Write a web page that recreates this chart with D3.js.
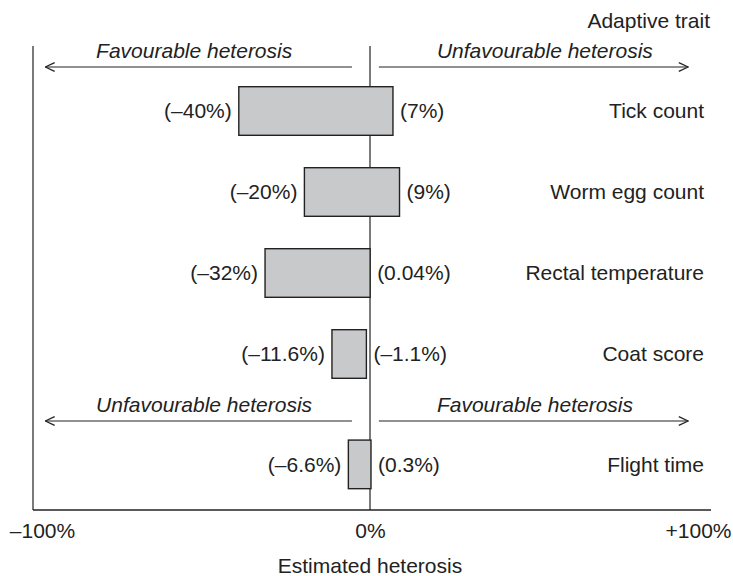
<!DOCTYPE html>
<html>
<head>
<meta charset="utf-8">
<script src="https://cdn.jsdelivr.net/npm/d3@7"></script>
<style>
  html, body { margin: 0; padding: 0; background: #fff; }
  svg { display: block; font-family: "Liberation Sans", Arial, Helvetica, sans-serif; }
</style>
</head>
<body>
<svg id="chart" width="733" height="576"></svg>
<script>
// Estimated heterosis ranges per adaptive trait (low and high estimates, %)
const upperTraits = ["Tick count", "Worm egg count", "Rectal temperature", "Coat score"];
const lowerTraits = ["Flight time"];
const lowValues  = [-40, -20, -32, -11.6, -6.6];
const highValues = [7, 9, 0.04, -1.1, 0.3];

// Axis
const tickValues = [-100, 0, 100];
const tickLabels = ["–100%", "0%", "+100%"];
const axisTitle = "Estimated heterosis";
const traitTitle = "Adaptive trait";

// Direction annotations for each panel (left side, right side)
const upperDirections = ["Favourable heterosis", "Unfavourable heterosis"];
const lowerDirections = ["Unfavourable heterosis", "Favourable heterosis"];

const traits = upperTraits.concat(lowerTraits);
const rows = traits.map((t, i) => ({
  trait: t, low: lowValues[i], high: highValues[i],
  panel: upperTraits.includes(t) ? "upper" : "lower"
}));

const fmt = v => "(" + (v < 0 ? "–" : "") + String(Math.abs(v)) + "%)";

const svg = d3.select("#chart");
const ink = "#222";
const fontSize = 21;

const x = d3.scaleLinear().domain([-100, 100]).range([42, 698]);

const yUpper = d3.scaleBand().domain(upperTraits)
  .range([70.5, 394.5]).paddingInner(0.4).paddingOuter(0.2);
const yLower = d3.scaleBand().domain(lowerTraits)
  .range([423.8, 505.2]).paddingInner(0.4).paddingOuter(0.2);
const yOf = d => d.panel === "upper" ? yUpper(d.trait) : yLower(d.trait);
const bw = yUpper.bandwidth();

const frameTop = 46, frameBottom = 510;
const frameLeft = x.range()[0] - 9, frameRight = x.range()[1] + 13;

// Frame: left edge and bottom axis line
svg.append("line")
  .attr("x1", frameLeft).attr("x2", frameLeft)
  .attr("y1", frameTop).attr("y2", frameBottom)
  .attr("stroke", ink).attr("stroke-width", 1.2);
svg.append("line")
  .attr("x1", frameLeft).attr("x2", frameRight)
  .attr("y1", frameBottom).attr("y2", frameBottom)
  .attr("stroke", ink).attr("stroke-width", 1.4);

// Zero reference line
svg.append("line")
  .attr("x1", x(0)).attr("x2", x(0))
  .attr("y1", frameTop).attr("y2", frameBottom)
  .attr("stroke", ink).attr("stroke-width", 1.2);

// Axis tick labels
const axis = d3.axisBottom(x)
  .tickValues(tickValues)
  .tickFormat((d, i) => tickLabels[i])
  .tickSize(0).tickPadding(13);
const gAxis = svg.append("g")
  .attr("transform", `translate(0,${frameBottom})`)
  .call(axis);
gAxis.select(".domain").remove();
gAxis.selectAll("text")
  .attr("fill", ink)
  .style("font-size", fontSize + "px")
  .style("font-family", '"Liberation Sans", Arial, sans-serif');

svg.append("text")
  .attr("x", x(0)).attr("y", 573)
  .attr("text-anchor", "middle")
  .attr("fill", ink).style("font-size", fontSize + "px")
  .text(axisTitle);

svg.append("text")
  .attr("x", 710).attr("y", 28)
  .attr("text-anchor", "end")
  .attr("fill", ink).style("font-size", fontSize + "px")
  .text(traitTitle);

// Arrow marker
svg.append("defs").append("marker")
  .attr("id", "arrow")
  .attr("viewBox", "0 0 10 10")
  .attr("refX", 9.5).attr("refY", 5)
  .attr("markerWidth", 11).attr("markerHeight", 11)
  .attr("markerUnits", "userSpaceOnUse")
  .attr("orient", "auto")
  .append("path")
  .attr("d", "M1,1 L9.5,5 L1,9")
  .attr("fill", "none").attr("stroke", ink).attr("stroke-width", 1.2);

// Direction arrows with their captions
function directionBand(labels, textY, arrowY) {
  const arrows = [
    { from: -5.5, to: -99, label: labels[0], textAt: -83.5 },
    { from: 2.7, to: 97, label: labels[1], textAt: 20.4 }
  ];
  arrows.forEach(a => {
    svg.append("line")
      .attr("x1", x(a.from)).attr("x2", x(a.to))
      .attr("y1", arrowY).attr("y2", arrowY)
      .attr("stroke", ink).attr("stroke-width", 1.2)
      .attr("marker-end", "url(#arrow)");
    svg.append("text")
      .attr("x", x(a.textAt)).attr("y", textY)
      .attr("fill", ink)
      .style("font-size", fontSize + "px")
      .style("font-style", "italic")
      .text(a.label);
  });
}
directionBand(upperDirections, 58, 67);
directionBand(lowerDirections, 412, 421);

// Heterosis range bars
const g = svg.append("g");
g.selectAll("rect").data(rows).join("rect")
  .attr("x", d => x(d.low))
  .attr("width", d => x(d.high) - x(d.low))
  .attr("y", d => yOf(d))
  .attr("height", bw)
  .attr("fill", "#c8c9cb")
  .attr("stroke", ink).attr("stroke-width", 1.4);

// Value labels on either side of each bar
g.selectAll("text.low").data(rows).join("text")
  .attr("class", "low")
  .attr("x", d => x(d.low) - 7)
  .attr("y", d => yOf(d) + bw / 2)
  .attr("dy", "0.35em")
  .attr("text-anchor", "end")
  .attr("fill", ink).style("font-size", fontSize + "px")
  .text(d => fmt(d.low));
g.selectAll("text.high").data(rows).join("text")
  .attr("class", "high")
  .attr("x", d => x(d.high) + 7)
  .attr("y", d => yOf(d) + bw / 2)
  .attr("dy", "0.35em")
  .attr("fill", ink).style("font-size", fontSize + "px")
  .text(d => fmt(d.high));

// Trait names
g.selectAll("text.trait").data(rows).join("text")
  .attr("class", "trait")
  .attr("x", 704)
  .attr("y", d => yOf(d) + bw / 2)
  .attr("dy", "0.35em")
  .attr("text-anchor", "end")
  .attr("fill", ink).style("font-size", fontSize + "px")
  .text(d => d.trait);
</script>
</body>
</html>
